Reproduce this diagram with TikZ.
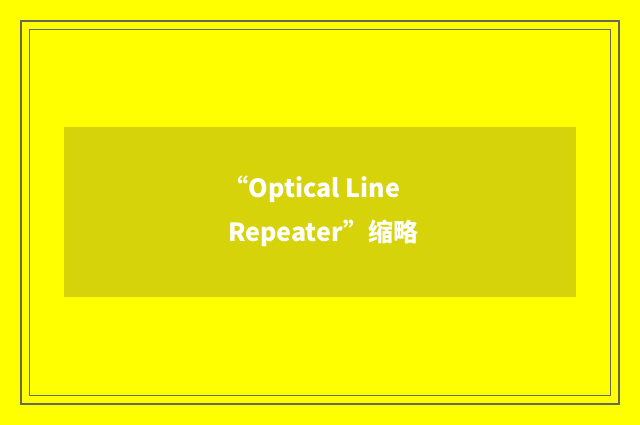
\documentclass[tikz,border=0pt]{standalone}
\usepackage{fontspec}
\newfontfamily\cjk{Noto Sans CJK SC}
\usepackage{tikz}
\definecolor{bgyellow}{HTML}{FFFF00}
\definecolor{boxyellow}{HTML}{D6D30A}
\definecolor{frame}{HTML}{6B6850}
\tikzset{caption/.style={anchor=base, text=white, font=\cjk\bfseries\fontsize{25}{30}\selectfont, inner sep=0pt}}

\begin{document}
\begin{tikzpicture}[x=1pt,y=-1pt]
\fill[bgyellow] (0,0) rectangle (640,425);
\useasboundingbox (0,0) rectangle (640,425);
\draw[frame, line width=2pt] (21,21) rectangle (619,404);
\draw[frame, line width=1pt] (29.5,29.5) rectangle (610.5,395.5);
\fill[boxyellow] (64,127) rectangle (576,297);
\node[caption] (line1) at (312,197) {“Optical Line};
\node[caption] (line2) at (323,241) {Repeater”缩略};
\end{tikzpicture}
\end{document}
